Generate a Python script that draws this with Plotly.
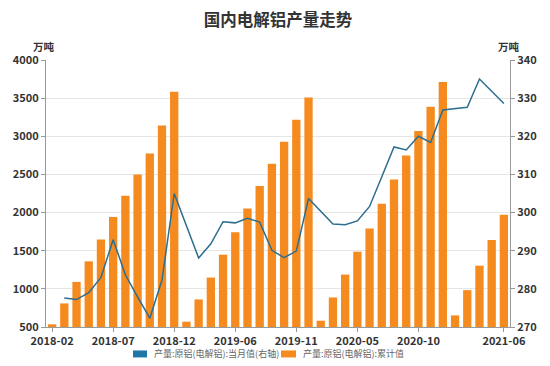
import plotly.graph_objects as go

categories = [
    "2018-02", "2018-03", "2018-04", "2018-05", "2018-06", "2018-07", "2018-08", "2018-09", "2018-10", "2018-11", "2018-12",
    "2019-02", "2019-03", "2019-04", "2019-05", "2019-06", "2019-07", "2019-08", "2019-09", "2019-10", "2019-11", "2019-12",
    "2020-02", "2020-03", "2020-04", "2020-05", "2020-06", "2020-07", "2020-08", "2020-09", "2020-10", "2020-11", "2020-12",
    "2021-02", "2021-03", "2021-04", "2021-05", "2021-06",
]
cumulative = [
    535, 809, 1091, 1361, 1648, 1943, 2222, 2500, 2774, 3142, 3583,
    570, 861, 1148, 1448, 1743, 2052, 2348, 2639, 2930, 3217, 3509,
    583, 887, 1187, 1487, 1791, 2117, 2435, 2748, 3070, 3387, 3713,
    652, 983, 1304, 1639, 1970,
]
# Jan-Feb monthly values are not published (None), the line bridges them
monthly = [
    None, 277.6, 277.2, 279.0, 283.0, 292.9, 283.7, 277.9, 272.3, 282.3, 305.0,
    None, 288.1, 291.8, 297.6, 297.3, 298.5, 297.5, 290.1, 288.2, 289.9, 303.7,
    None, 297.0, 296.8, 297.8, 301.6, 309.4, 317.2, 316.4, 320.0, 318.4, 326.9,
    None, 327.6, 335.0, 331.8, 328.6,
]

tick_labels = ["2018-02", "2018-07", "2018-12", "2019-06", "2019-11", "2020-05", "2020-10", "2021-06"]
left_ticks = [500, 1000, 1500, 2000, 2500, 3000, 3500, 4000]
right_ticks = [270, 280, 290, 300, 310, 320, 330, 340]

name_line = "产量:原铝(电解铝):当月值(右轴)"
name_bar = "产量:原铝(电解铝):累计值"
line_color = "#2b6e8f"
legend_blue = "#1f77a8"
bar_color = "#f58a1f"

font_family = "Noto Sans CJK SC, Noto Sans, sans-serif"

W, H = 550, 366
L, R, T, B = 46, 40, 60, 38.5
PW, PH = W - L - R, H - T - B


def px(x):
    return (x - L) / PW


def py(y):
    return (H - B - y) / PH


fig = go.Figure()
fig.add_trace(go.Bar(x=categories, y=[v - 500 for v in cumulative], base=500, name=name_bar,
                     marker_color=bar_color, marker_line_width=0, showlegend=False))
fig.add_trace(go.Scatter(x=categories, y=monthly, yaxis="y2", mode="lines", connectgaps=True,
                         line=dict(color=line_color, width=1.5), name=name_line, showlegend=False))

axis_common = dict(showline=True, linecolor="#999999", linewidth=1, ticks="outside", ticklen=4,
                   tickcolor="#999999", tickfont=dict(size=11, color="#333333"), automargin=False)

fig.update_layout(
    width=W, height=H,
    margin=dict(l=L, r=R, t=T, b=B, autoexpand=False),
    paper_bgcolor="white", plot_bgcolor="white",
    font=dict(family=font_family, color="#333333", size=11),
    title=dict(text="<b>国内电解铝产量走势</b>", x=0.5, xanchor="center", xref="paper",
               y=1 - 20 / H, yanchor="middle", yref="container",
               font=dict(size=16.5, color="#333333", family=font_family)),
    bargap=0.32,
    showlegend=False,
    xaxis=dict(type="category", categoryorder="array", categoryarray=categories,
               tickmode="array", tickvals=tick_labels, ticktext=["<b>%s</b>" % t for t in tick_labels],
               showgrid=False, range=[-0.5, len(categories) - 0.5], **axis_common),
    yaxis=dict(range=[500, 4000], tickmode="array", tickvals=left_ticks,
               ticktext=["<b>%d</b>" % t for t in left_ticks],
               showgrid=True, gridcolor="#e6e6e6", gridwidth=1, zeroline=False, **axis_common),
    yaxis2=dict(range=[270, 340], overlaying="y", side="right", tickmode="array", tickvals=right_ticks,
                ticktext=["<b>%d</b>" % t for t in right_ticks],
                showgrid=False, zeroline=False, **axis_common),
    shapes=[
        dict(type="rect", xref="paper", yref="paper", x0=px(133), x1=px(147), y0=py(358), y1=py(351),
             fillcolor=legend_blue, line_width=0),
        dict(type="rect", xref="paper", yref="paper", x0=px(281), x1=px(296), y0=py(358), y1=py(351),
             fillcolor=bar_color, line_width=0),
    ],
    annotations=[
        dict(text="<b>万吨</b>", xref="paper", yref="paper", x=px(44), y=py(46), xanchor="center",
             yanchor="middle", showarrow=False, font=dict(size=10.5, color="#333333")),
        dict(text="<b>万吨</b>", xref="paper", yref="paper", x=px(509), y=py(46), xanchor="center",
             yanchor="middle", showarrow=False, font=dict(size=10.5, color="#333333")),
        dict(text=name_line, xref="paper", yref="paper", x=px(152), y=py(354.5), xanchor="left",
             yanchor="middle", showarrow=False, font=dict(size=9, color="#666666")),
        dict(text=name_bar, xref="paper", yref="paper", x=px(301), y=py(354.5), xanchor="left",
             yanchor="middle", showarrow=False, font=dict(size=9, color="#666666")),
    ],
)

fig.write_html("out.html", config={"displayModeBar": False},
               post_script="document.body.style.margin='0';document.body.style.overflow='hidden';")
